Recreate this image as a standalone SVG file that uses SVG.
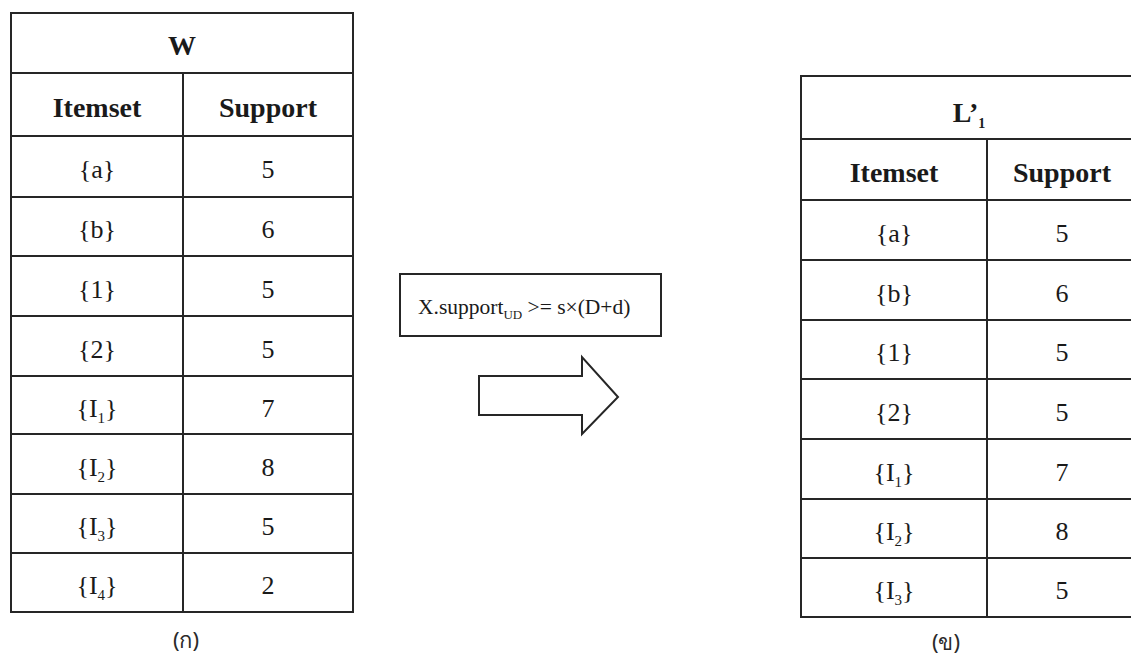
<svg xmlns="http://www.w3.org/2000/svg" width="1131" height="660" viewBox="0 0 1131 660">
  <style>
    .grid { fill: none; stroke: #262626; stroke-width: 2; }
    .hd { font-family: "Liberation Serif", "Times New Roman", serif; font-size: 28px; font-weight: bold; fill: #1a1a1a; text-anchor: middle; }
    .cell { font-family: "Liberation Serif", "Times New Roman", serif; font-size: 26px; fill: #1a1a1a; text-anchor: middle; }
    .sub { font-size: 15px; }
    .rule { font-family: "Liberation Serif", "Times New Roman", serif; font-size: 21.5px; fill: #1a1a1a; }
    .cap { font-family: "Noto Sans", "DejaVu Sans", sans-serif; font-size: 22px; fill: #2a2a2a; text-anchor: middle; }
    .arrow { fill: #fff; stroke: #262626; stroke-width: 2; stroke-linejoin: miter; }
  </style>

  <rect width="1131" height="660" fill="#ffffff"/>

  <!-- Table W: all candidate itemsets -->
  <g id="table-w">
    <rect class="grid" x="11" y="13" width="342" height="599"/>
    <path class="grid" d="M11 73H353 M11 136H353 M11 197H353 M11 256H353 M11 316H353 M11 376H353 M11 434H353 M11 494H353 M11 553H353 M183 73V612"/>
    <text class="hd" x="182" y="55">W</text>
    <text class="hd" x="97" y="117">Itemset</text>
    <text class="hd" x="268" y="117">Support</text>

    <text class="cell" x="97" y="178">{a}</text>
    <text class="cell" x="268" y="178">5</text>
    <text class="cell" x="97" y="238">{b}</text>
    <text class="cell" x="268" y="238">6</text>
    <text class="cell" x="97" y="298">{1}</text>
    <text class="cell" x="268" y="298">5</text>
    <text class="cell" x="97" y="358">{2}</text>
    <text class="cell" x="268" y="358">5</text>
    <text class="cell" x="97" y="417">{I<tspan class="sub" dy="6">1</tspan><tspan dy="-6">}</tspan></text>
    <text class="cell" x="268" y="417">7</text>
    <text class="cell" x="97" y="476">{I<tspan class="sub" dy="6">2</tspan><tspan dy="-6">}</tspan></text>
    <text class="cell" x="268" y="476">8</text>
    <text class="cell" x="97" y="535">{I<tspan class="sub" dy="6">3</tspan><tspan dy="-6">}</tspan></text>
    <text class="cell" x="268" y="535">5</text>
    <text class="cell" x="97" y="594">{I<tspan class="sub" dy="6">4</tspan><tspan dy="-6">}</tspan></text>
    <text class="cell" x="268" y="594">2</text>
  </g>

  <!-- Support threshold condition -->
  <g id="condition">
    <rect class="grid" x="400" y="274" width="261" height="62"/>
    <text class="rule" x="418" y="314">X.support<tspan font-size="13" dy="5">UD</tspan><tspan dy="-5"> &gt;= s×(D+d)</tspan></text>
  </g>

  <!-- Transition arrow -->
  <g id="connectors">
    <polygon class="arrow" points="479,376 582,376 582,357 618,397 582,434 582,415 479,415"/>
  </g>

  <!-- Table L'1: frequent itemsets -->
  <g id="table-l1">
    <rect class="grid" x="801" y="76" width="336" height="541"/>
    <path class="grid" d="M801 139H1137 M801 200H1137 M801 260H1137 M801 320H1137 M801 379H1137 M801 439H1137 M801 499H1137 M801 558H1137 M987 139V617"/>
    <text class="hd" x="969" y="122">L’<tspan font-size="14" dy="6">1</tspan></text>
    <text class="hd" x="894" y="182">Itemset</text>
    <text class="hd" x="1062" y="182">Support</text>

    <text class="cell" x="894" y="242">{a}</text>
    <text class="cell" x="1062" y="242">5</text>
    <text class="cell" x="894" y="302">{b}</text>
    <text class="cell" x="1062" y="302">6</text>
    <text class="cell" x="894" y="361">{1}</text>
    <text class="cell" x="1062" y="361">5</text>
    <text class="cell" x="894" y="421">{2}</text>
    <text class="cell" x="1062" y="421">5</text>
    <text class="cell" x="894" y="481">{I<tspan class="sub" dy="6">1</tspan><tspan dy="-6">}</tspan></text>
    <text class="cell" x="1062" y="481">7</text>
    <text class="cell" x="894" y="540">{I<tspan class="sub" dy="6">2</tspan><tspan dy="-6">}</tspan></text>
    <text class="cell" x="1062" y="540">8</text>
    <text class="cell" x="894" y="599">{I<tspan class="sub" dy="6">3</tspan><tspan dy="-6">}</tspan></text>
    <text class="cell" x="1062" y="599">5</text>
  </g>

  <!-- Captions -->
  <g id="captions">
    <text class="cap" x="186" y="648">(ก)</text>
    <text class="cap" x="946" y="650">(ข)</text>
  </g>
</svg>
